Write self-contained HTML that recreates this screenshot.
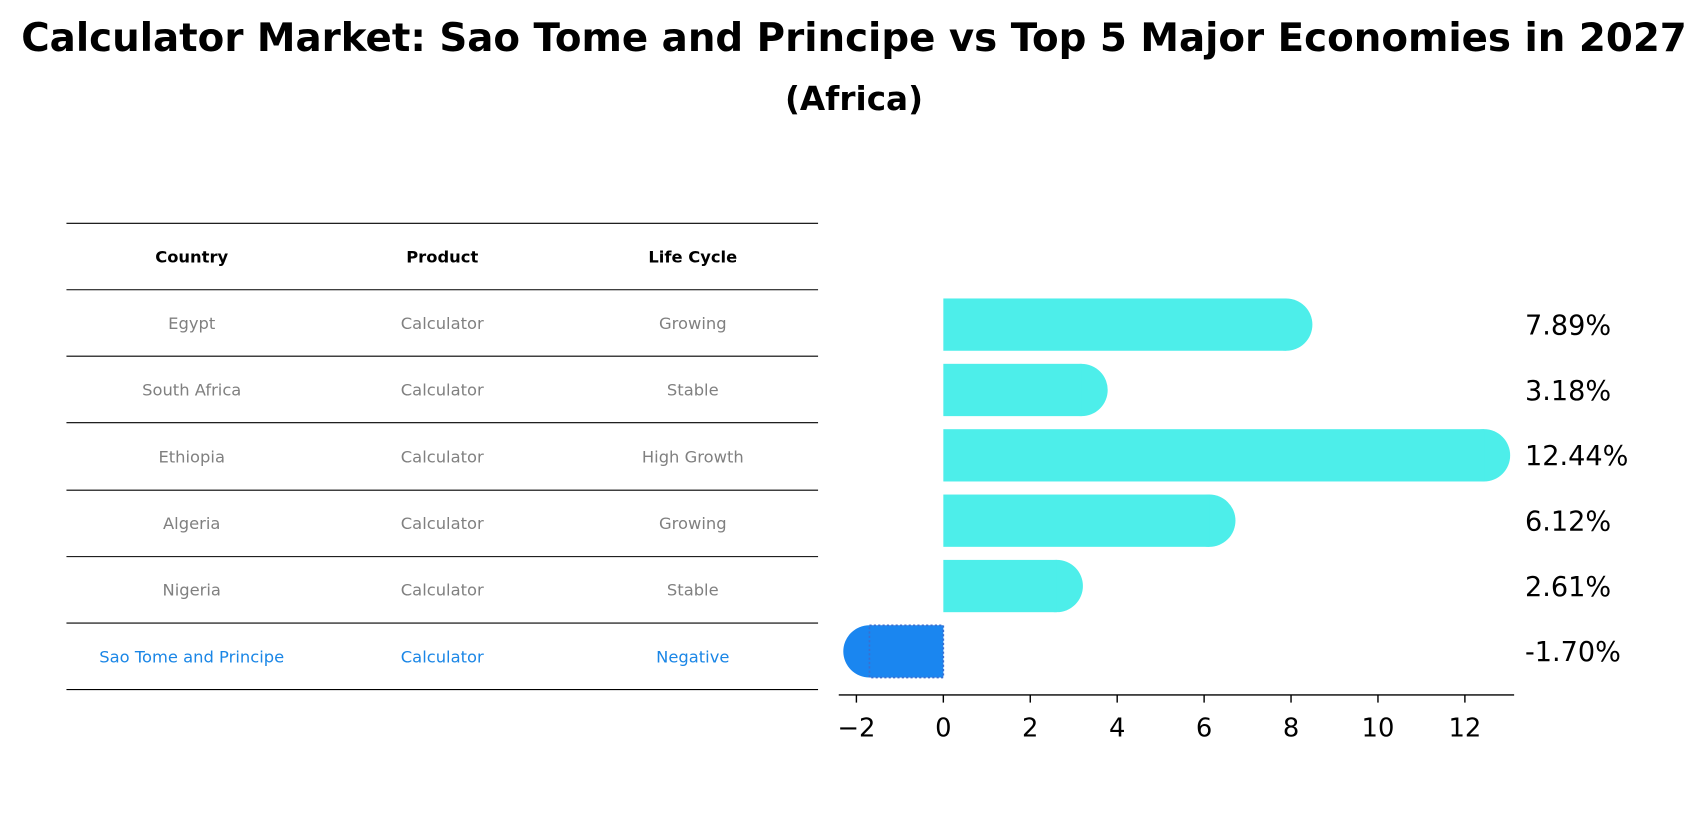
<!DOCTYPE html>
<html><head><meta charset="utf-8"><style>
body{margin:0;background:#fff;font-family:"Liberation Sans","DejaVu Sans",sans-serif;}
#wrap{position:relative;width:1708px;height:823px;overflow:hidden;}
</style></head><body>
<div id="wrap">
<svg id="svg" width="1708" height="823" xmlns="http://www.w3.org/2000/svg">
<g transform="scale(1.0893)">
<text x="784" y="47" text-anchor="middle" font-size="35.6" font-weight="bold" font-family="DejaVu Sans, Liberation Sans, sans-serif">Calculator Market: Sao Tome and Principe vs Top 5 Major Economies in 2027</text>
<text x="784" y="101" text-anchor="middle" font-size="30" font-weight="bold" font-family="DejaVu Sans, Liberation Sans, sans-serif">(Africa)</text>
<g id="table"></g>
<g id="bars"></g>
</g>
</svg>
</div>
<script>
const countries=["Egypt","South Africa","Ethiopia","Algeria","Nigeria","Sao Tome and Principe"];
const products=["Calculator","Calculator","Calculator","Calculator","Calculator","Calculator"];
const lifecycles=["Growing","Stable","High Growth","Growing","Stable","Negative"];
const growth=[7.89,3.18,12.44,6.12,2.61,-1.70];
const ticks=[-2,0,2,4,6,8,10,12];
const NS="http://www.w3.org/2000/svg";
function mk(tag,attrs,parent,text){const e=document.createElementNS(NS,tag);for(const k in attrs)e.setAttribute(k,attrs[k]);if(text!==undefined)e.textContent=text;parent.appendChild(e);return e;}
const F="DejaVu Sans, Liberation Sans, sans-serif";
const tg=document.getElementById('table');
const lineYs=[205,266,327,388,450,511,572,633];
lineYs.forEach((y,i)=>{const l=mk('line',{x1:61,x2:751,y1:y,y2:y,stroke:'#000','stroke-width':1},tg);

});
const colX=[176,406,636];
["Country","Product","Life Cycle"].forEach((h,i)=>{const t=mk('text',{x:colX[i],y:241,'text-anchor':'middle','font-size':15,'font-weight':'bold','font-family':F},tg,h);

});
countries.forEach((c,r)=>{const y=302+r*61.2;const hl=r===countries.length-1;const col=hl?'#1a86e6':'#808080';
[c,products[r],lifecycles[r]].forEach((v,i)=>{const t=mk('text',{x:colX[i],y:y,'text-anchor':'middle','font-size':15,fill:col,'font-family':F},tg,v);

});});
const bg=document.getElementById('bars');
const x0=866,ppu=39.9;
const X=v=>x0+v*ppu;
const rowY=i=>298+i*60;
const H=48,R=24;
growth.forEach((v,i)=>{const yc=rowY(i);const neg=v<0;const col=neg?'#1a86f0':'#4deeea';
const xe=X(v);const g=mk('g',{},bg);


mk('circle',{cx:xe,cy:yc,r:R,fill:col},g);
mk('rect',{x:Math.min(x0,xe),y:yc-H/2,width:Math.abs(xe-x0),height:H,fill:col,stroke:neg?'#3a6fd0':'none','stroke-dasharray':neg?'2,2':'none','stroke-width':neg?1.5:0},g);
const t=mk('text',{x:1400,y:yc+9,'font-size':24.9,'font-family':F},bg,v.toFixed(2)+'%');

});
const ax=mk('line',{x1:770,x2:1390,y1:638,y2:638,stroke:'#000','stroke-width':1.3},bg);


ticks.forEach(t=>{const x=X(t);mk('line',{x1:x,x2:x,y1:638,y2:645,stroke:'#000','stroke-width':1.3},bg);
const l=mk('text',{x:x,y:676,'text-anchor':'middle','font-size':23.7,'font-family':F},bg,t<0?'\u2212'+(-t):String(t));

});
</script>
</body></html>
